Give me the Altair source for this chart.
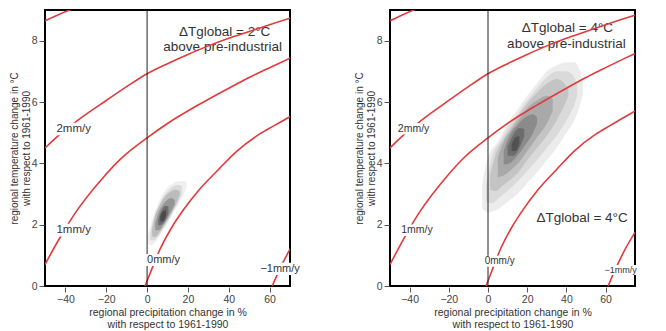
import altair as alt
import pandas as pd

# ---------------- data ----------------
x_ticks = [-40, -20, 0, 20, 40, 60]
y_ticks = [0, 2, 4, 6, 8]

# red iso-lines of P-E change (same in both panels, data coordinates)
c3_x = [-50, -44, -38, -32]
c3_y = [8.65, 8.83, 9.0, 9.15]
c2_x = [-50, -44, -33, -20, -10, 0, 10, 20, 30, 40, 50, 60, 70, 75]
c2_y = [4.5, 4.87, 5.45, 6.05, 6.5, 6.92, 7.25, 7.55, 7.83, 8.08, 8.3, 8.52, 8.73, 8.83]
c1_x = [-50, -43, -35, -22, -12, 0, 10, 25, 40, 50, 60, 70, 75]
c1_y = [0.7, 1.54, 2.4, 3.5, 4.2, 4.83, 5.3, 5.9, 6.45, 6.8, 7.12, 7.43, 7.58]
c0_x = [-1, 2, 6, 12, 18, 25, 35, 44, 55, 62, 70, 75]
c0_y = [0, 0.5, 1.15, 1.9, 2.5, 3.1, 3.8, 4.4, 4.95, 5.22, 5.52, 5.7]
cm1_x = [61.3, 65, 70, 75]
cm1_y = [0, 0.55, 1.2, 1.75]

# density contours, 2 degC panel: (x, low, high), outer to inner
blob2_l1 = [(0.3, 1.4, 1.6), (2, 1.33, 2.05), (4, 1.43, 2.45), (6, 1.63, 2.78), (8, 1.83, 3.03),
            (10, 2.03, 3.22), (12, 2.28, 3.32), (14, 2.5, 3.4), (16, 2.75, 3.42), (18, 3.0, 3.42), (19.4, 3.25, 3.35)]
blob2_l2 = [(1.5, 1.5, 1.7), (3, 1.48, 2.15), (5, 1.58, 2.5), (7, 1.78, 2.8), (9, 1.98, 3.0),
            (11, 2.2, 3.15), (13, 2.45, 3.25), (15, 2.7, 3.3), (17, 3.0, 3.25)]
blob2_l3 = [(2.5, 1.62, 1.85), (4, 1.6, 2.3), (6, 1.75, 2.6), (8, 1.95, 2.85), (10, 2.15, 3.0),
            (12, 2.4, 3.1), (14, 2.65, 3.15), (16, 2.95, 3.08)]
blob2_l4 = [(4, 1.82, 2.05), (6, 1.83, 2.45), (8, 2.0, 2.67), (10, 2.2, 2.82), (12, 2.45, 2.87), (13.5, 2.65, 2.8)]
blob2_l5 = [(5.5, 1.98, 2.18), (7, 2.0, 2.45), (9, 2.15, 2.62), (10.5, 2.38, 2.6)]
blob2_l6 = [(6.5, 2.1, 2.28), (8, 2.12, 2.45), (9.3, 2.3, 2.47)]
blob2_colors = ["#efefef", "#dadada", "#bcbcbc", "#969696", "#6c6c6c", "#4a4a4a"]

# density contours, 4 degC panel
blob4_l1 = [(-3, 2.55, 3.3), (0, 2.4, 4.2), (5, 2.5, 4.7), (10, 2.75, 5.3), (15, 3.0, 5.75), (20, 3.35, 6.2),
            (25, 3.7, 6.6), (30, 4.1, 7.0), (35, 4.5, 7.2), (40, 5.0, 7.3), (44, 5.4, 7.3), (47, 5.9, 7.0), (48.5, 6.25, 6.6)]
blob4_l2 = [(-1, 2.75, 3.3), (2, 2.7, 4.2), (6, 2.9, 4.7), (10, 3.1, 5.15), (15, 3.4, 5.6), (20, 3.75, 6.05),
            (25, 4.1, 6.45), (30, 4.5, 6.8), (35, 4.9, 7.0), (40, 5.4, 7.0), (44, 5.9, 6.8), (45.5, 6.2, 6.5)]
blob4_l3 = [(1, 3.15, 3.6), (4, 3.1, 4.3), (8, 3.3, 4.8), (12, 3.5, 5.2), (16, 3.75, 5.6), (20, 4.1, 5.95),
            (25, 4.5, 6.3), (30, 4.9, 6.6), (35, 5.4, 6.75), (39, 5.9, 6.6), (41, 6.2, 6.4)]
blob4_l4 = [(5, 3.55, 4.2), (8, 3.6, 4.7), (12, 3.8, 5.1), (16, 4.05, 5.45), (20, 4.4, 5.8), (25, 4.85, 6.05),
            (30, 5.3, 6.2), (33, 5.7, 6.1)]
blob4_l5 = [(8, 3.95, 4.4), (11, 4.0, 4.9), (15, 4.25, 5.25), (19, 4.6, 5.5), (23, 5.0, 5.6), (25, 5.3, 5.5)]
blob4_l6 = [(10, 4.25, 4.55), (13, 4.25, 4.95), (16, 4.5, 5.15), (18.5, 4.88, 5.12)]
blob4_l7 = [(12, 4.4, 4.6), (14, 4.4, 4.85), (16, 4.65, 4.88)]
blob4_colors = ["#ececec", "#dadada", "#c4c4c4", "#a9a9a9", "#8b8b8b", "#6d6d6d", "#525252"]

# line labels
lab_text = ["2mm/y", "1mm/y", "0mm/y", "\u22121mm/y"]
lab_left_x = [-44.4, -44.4, 0, 55.5]
lab_left_y = [5.12, 1.82, 0.85, 0.56]
lab_right_x = [-46, -44.3, -1.7, 59.4]
lab_right_y = [5.13, 1.82, 0.81, 0.52]

# annotation texts
ann_left = ["\u0394Tglobal = 2\u00b0C", "above pre-industrial"]
ann_left_x = [38, 37]
ann_left_y = [8.27, 7.78]
ann_right = ["\u0394Tglobal = 4\u00b0C", "above pre-industrial", "\u0394Tglobal = 4\u00b0C"]
ann_right_x = [40.5, 40, 48]
ann_right_y = [8.4, 7.9, 2.21]

# ---------------- chart ----------------
FONT = "Liberation Sans"
W, H = 245, 276
YMAX = 9
XTITLE = ["regional precipitation change in %", "with respect to 1961-1990"]
YTITLE = ["regional temperature change in \u00b0C", "with respect to 1961-1990"]


def curves_df():
    rows = []
    for name, xs, ys in [("3", c3_x, c3_y), ("2", c2_x, c2_y), ("1", c1_x, c1_y),
                         ("0", c0_x, c0_y), ("-1", cm1_x, cm1_y)]:
        for a, b in zip(xs, ys):
            rows.append({"curve": name, "x": a, "y": b})
    return pd.DataFrame(rows)


def panel(xmax, levels, colors, lx, ly, lsizes, ann, ax, ay):
    xs = alt.Scale(domain=[-50, xmax], nice=False, zero=False)
    ys = alt.Scale(domain=[0, YMAX], nice=False, zero=False)

    def X(f):
        return alt.X(f, scale=xs, axis=alt.Axis(values=x_ticks), title=XTITLE)

    def Y(f, **kw):
        return alt.Y(f, scale=ys, axis=alt.Axis(values=y_ticks), title=YTITLE, **kw)

    layers = []
    for lev, col in zip(levels, colors):
        df = pd.DataFrame(lev, columns=["x", "y", "y2"])
        layers.append(alt.Chart(df).mark_area(color=col, interpolate="monotone", clip=True, opacity=1).encode(
            x=X("x:Q"), y=Y("y:Q", stack=None), y2="y2:Q"))
    adf = pd.DataFrame({"t": ann, "x": ax, "y": ay})
    layers.append(alt.Chart(adf).mark_text(font=FONT, fontSize=13.5, color="#333", align="center",
                                           baseline="middle").encode(
        x=X("x:Q"), y=Y("y:Q"), text="t:N"))
    layers.append(alt.Chart(curves_df()).mark_line(color="#e23a3c", strokeWidth=1.6, interpolate="monotone",
                                                   clip=True).encode(
        x=X("x:Q"), y=Y("y:Q"), detail="curve:N"))
    layers.append(alt.Chart(pd.DataFrame({"x": [0]})).mark_rule(color="#222", strokeWidth=1).encode(
        x=X("x:Q")))
    # label backgrounds
    ux = W / (xmax + 50)
    uy = H / YMAX
    rows = []
    for t, a, b, s in zip(lab_text, lx, ly, lsizes):
        wpx = 0.58 * s * len(t) + 2
        rows.append({"t": t, "x": a, "y": b, "s": s,
                     "x0": a - 1 / ux, "x1": a + wpx / ux, "y0": b - 0.55 * s / uy, "y1": b + 0.55 * s / uy})
    ldf = pd.DataFrame(rows)
    layers.append(alt.Chart(ldf).mark_rect(color="white").encode(
        x=X("x0:Q"), x2="x1:Q", y=Y("y0:Q"), y2="y1:Q"))
    layers.append(alt.Chart(ldf).mark_text(font=FONT, color="#333", align="left", baseline="middle").encode(
        x=X("x:Q"), y=Y("y:Q"), text="t:N",
        size=alt.Size("s:Q", scale=None, legend=None)))
    return alt.layer(*layers).properties(width=W, height=H)


left = panel(70, [blob2_l1, blob2_l2, blob2_l3, blob2_l4, blob2_l5, blob2_l6], blob2_colors,
             lab_left_x, lab_left_y, [11.5, 11.5, 11, 11], ann_left, ann_left_x, ann_left_y)
right = panel(75, [blob4_l1, blob4_l2, blob4_l3, blob4_l4, blob4_l5, blob4_l6, blob4_l7], blob4_colors,
              lab_right_x, lab_right_y, [10.5, 10.5, 10, 9], ann_right, ann_right_x, ann_right_y)

chart = alt.hconcat(left, right, spacing=51).properties(
    padding={"left": 0, "top": 0, "right": 0, "bottom": 0}
).configure_view(stroke="black", strokeWidth=2).configure_axis(
    grid=False, domain=False, ticks=True, tickSize=5, tickColor="#555", offset=1,
    labelFont=FONT, labelFontSize=10.5, labelColor="#444", labelPadding=2,
    titleFont=FONT, titleFontSize=10.5, titleColor="#333", titleFontWeight="normal"
).configure_axisLeft(titleLineHeight=11.5, titlePadding=0, titleFontSize=10).configure_axisBottom(
    titleLineHeight=12, titlePadding=3)

chart.save("out.html", embed_options={"renderer": "svg", "actions": False})
